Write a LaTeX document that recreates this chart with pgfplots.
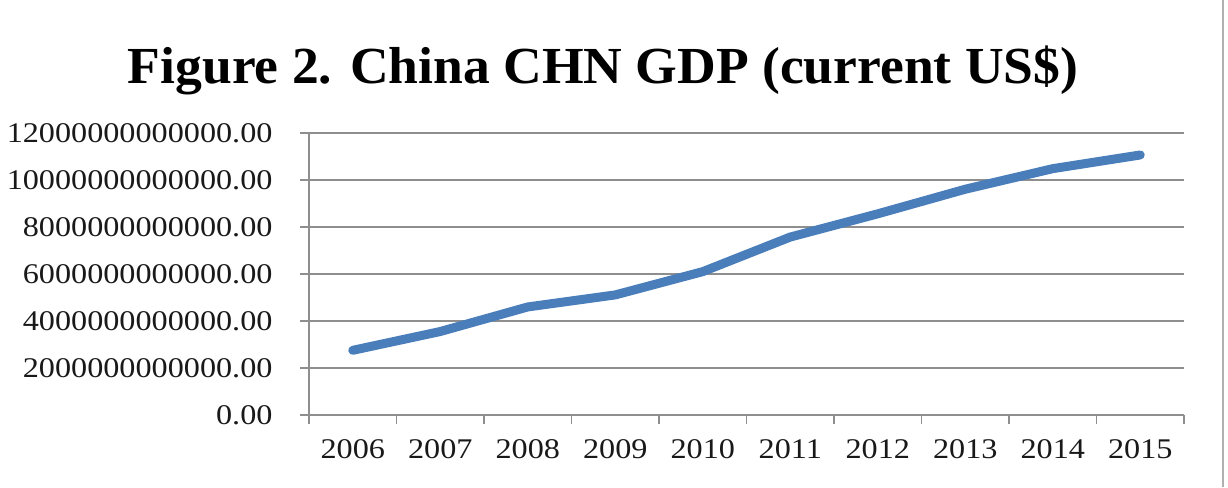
\documentclass[border=0pt]{standalone}
\usepackage{fontspec}
\setmainfont{Liberation Serif}
\newfontfamily\tickfont[FakeStretch=1.13]{Liberation Serif}
\newfontfamily\titlefont[FakeStretch=1.03]{Liberation Serif}
\usepackage{pgfplots}
\pgfplotsset{compat=1.18}
\definecolor{gdpblue}{HTML}{4A7EBB}
\definecolor{gridgray}{HTML}{8E8E8E}
\begin{document}
\begin{tikzpicture}[x=1pt,y=1pt]
\path[use as bounding box] (0,0) rectangle (1228,487);
\draw[gridgray!70, line width=1.5pt] (1223,0) -- (1223,487);
\begin{axis}[
  at={(309pt,72pt)}, anchor=south west,
  scale only axis, width=875pt, height=282pt,
  xmin=0, xmax=10, ymin=0, ymax=12e12,
  axis x line*=bottom, axis y line*=left,
  axis line style={gridgray, line width=1.5pt},
  xtick={0.5,1.5,...,9.5},
  xticklabels={2006,2007,2008,2009,2010,2011,2012,2013,2014,2015},
  minor xtick={0,1,...,10},
  major tick length=9pt, minor tick length=9pt,
  tick align=outside,
  xtick style={draw=none},
  minor x tick style={draw=gridgray, line width=1.5pt},
  ytick={0,2e12,4e12,6e12,8e12,10e12,12e12},
  yticklabels={0.00,2000000000000.00,4000000000000.00,6000000000000.00,8000000000000.00,10000000000000.00,12000000000000.00},
  scaled y ticks=false,
  ytick style={draw=gridgray, line width=1.5pt},
  ymajorgrids, grid style={gridgray, line width=1.5pt},
  tick label style={font=\tickfont\fontsize{28.5}{31}\selectfont, text=black!90},
  every y tick label/.append style={xshift=-24pt},
  every x tick label/.append style={yshift=-12pt},
  clip=false,
]
\addplot[gdpblue, line width=9pt, line cap=round, line join=round] coordinates {
  (0.5,2752131773355)
  (1.5,3552182311653)
  (2.5,4598205419718)
  (3.5,5109954035775)
  (4.5,6100620356557)
  (5.5,7572553836875)
  (6.5,8560547314679)
  (7.5,9607224481533)
  (8.5,10482371325324)
  (9.5,11064664793255)
};
\node[anchor=base, font=\titlefont\bfseries\fontsize{52}{60}\selectfont] at (rel axis cs:0.336,1.177) {Figure 2. China CHN GDP (current US\$)};
\end{axis}
\end{tikzpicture}
\end{document}
